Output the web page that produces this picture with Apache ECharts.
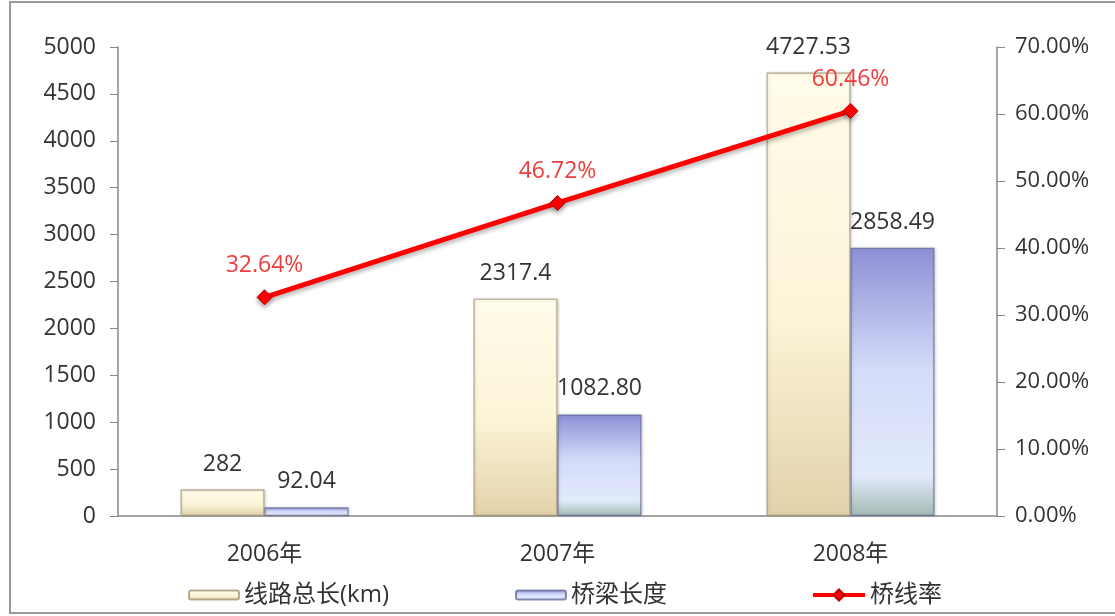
<!DOCTYPE html>
<html>
<head>
<meta charset="utf-8">
<script src="https://cdn.jsdelivr.net/npm/echarts@6/dist/echarts.min.js"></script>
<style>
  html, body { margin: 0; padding: 0; background: #fff; }
  #chart { width: 1115px; height: 616px; }
</style>
</head>
<body>
<div id="chart"></div>
<script>
// Years on the category axis
const years = ['2006年', '2007年', '2008年'];
// Total line length (km)
const lineLength = [282, 2317.4, 4727.53];
// Bridge length (km)
const bridgeLength = [92.04, 1082.80, 2858.49];
// Bridge-to-line ratio (%)
const bridgeRatio = [32.64, 46.72, 60.46];

const FONT = '"Open Sans", "Noto Sans CJK SC", sans-serif';
const TEXT = '#333';

const chart = echarts.init(document.getElementById('chart'));

const creamFill = new echarts.graphic.LinearGradient(0, 0, 0, 1, [
  { offset: 0, color: '#fffcea' },
  { offset: 0.55, color: '#fcf4d8' },
  { offset: 1, color: '#e2d2aa' }
]);
const blueFill = new echarts.graphic.LinearGradient(0, 0, 0, 1, [
  { offset: 0, color: '#8c90d6' },
  { offset: 0.45, color: '#d4dbf8' },
  { offset: 0.85, color: '#e2eafc' },
  { offset: 1, color: '#a3bab2' }
]);

chart.setOption({
  backgroundColor: '#fff',
  animation: false,
  graphic: [{
    type: 'rect',
    shape: { x: 10, y: 2, width: 1120, height: 611 },
    style: { fill: 'none', stroke: '#9a9a9a', lineWidth: 2 },
    silent: true
  }],
  grid: { left: 118, right: 118, top: 47, bottom: 100 },
  legend: [
    { data: ['线路总长(km)'], left: 183, top: 578, itemWidth: 50, itemHeight: 9,
      textStyle: { fontFamily: FONT, fontSize: 24, color: TEXT } },
    { data: ['桥梁长度'], left: 510, top: 578, itemWidth: 50, itemHeight: 9,
      textStyle: { fontFamily: FONT, fontSize: 24, color: TEXT } },
    { data: ['桥线率'], left: 806, top: 578, itemWidth: 52, itemHeight: 14,
      lineStyle: { width: 4 },
      textStyle: { fontFamily: FONT, fontSize: 24, color: TEXT } }
  ],
  xAxis: {
    type: 'category',
    data: years,
    axisLine: { lineStyle: { color: '#888', width: 1.5 } },
    axisTick: { show: false },
    axisLabel: { fontFamily: FONT, fontSize: 23, color: TEXT, margin: 27 }
  },
  yAxis: [
    {
      type: 'value', min: 0, max: 5000, interval: 500,
      splitLine: { show: false },
      axisLine: { show: true, lineStyle: { color: '#888', width: 1.5 } },
      axisTick: { show: true, length: 8, lineStyle: { color: '#888' } },
      axisLabel: {
        fontFamily: FONT, fontSize: 23, color: TEXT, margin: 22,
        formatter: v => String(v)
      }
    },
    {
      type: 'value', min: 0, max: 70, interval: 10,
      splitLine: { show: false },
      axisLine: { show: true, lineStyle: { color: '#888', width: 1.5 } },
      axisTick: { show: true, length: 8, lineStyle: { color: '#888' } },
      axisLabel: {
        fontFamily: FONT, fontSize: 22, color: TEXT, margin: 18,
        formatter: v => v.toFixed(2) + '%'
      }
    }
  ],
  series: [
    {
      name: '线路总长(km)',
      type: 'bar',
      data: lineLength,
      barWidth: 84,
      barGap: '0%',
      itemStyle: {
        color: creamFill,
        borderColor: 'rgba(160,145,110,0.75)',
        borderWidth: 1.2,
        shadowColor: 'rgba(0,0,0,0.18)',
        shadowBlur: 3,
        shadowOffsetX: 1
      },
      label: {
        show: true, position: 'top', distance: 14,
        fontFamily: FONT, fontSize: 23, color: TEXT,
        formatter: p => String(p.value)
      }
    },
    {
      name: '桥梁长度',
      type: 'bar',
      data: bridgeLength,
      barWidth: 84,
      barGap: '0%',
      itemStyle: {
        color: blueFill,
        borderColor: 'rgba(95,100,150,0.75)',
        borderWidth: 1.2,
        shadowColor: 'rgba(0,0,0,0.18)',
        shadowBlur: 3,
        shadowOffsetX: 1
      },
      label: {
        show: true, position: 'top', distance: 14,
        fontFamily: FONT, fontSize: 23, color: TEXT,
        formatter: p => p.value.toFixed(2)
      }
    },
    {
      name: '桥线率',
      type: 'line',
      yAxisIndex: 1,
      data: bridgeRatio,
      symbol: 'diamond',
      symbolSize: 15,
      z: 5,
      lineStyle: {
        color: '#ff0000', width: 5,
        shadowColor: 'rgba(0,0,0,0.3)', shadowBlur: 4, shadowOffsetY: 3
      },
      itemStyle: {
        color: '#ff0000', borderColor: '#c00000', borderWidth: 1,
        shadowColor: 'rgba(0,0,0,0.3)', shadowBlur: 4, shadowOffsetY: 3
      },
      label: {
        show: true, position: 'top', distance: 12,
        fontFamily: FONT, fontSize: 23, color: '#f03c3c',
        formatter: p => p.value.toFixed(2) + '%'
      }
    }
  ]
});
</script>
</body>
</html>
